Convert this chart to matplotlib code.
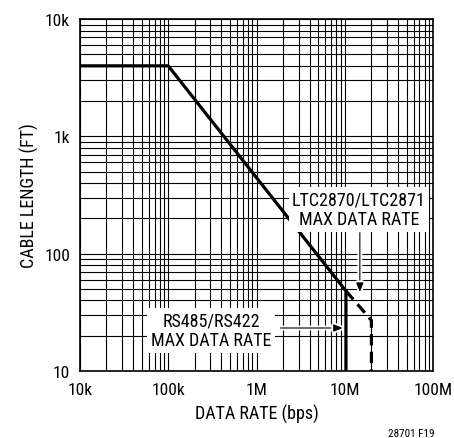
import matplotlib
matplotlib.use("Agg")
import matplotlib.pyplot as plt
import matplotlib.patheffects as pe
from matplotlib.ticker import FixedLocator, LogLocator, NullFormatter

plt.rcParams["font.family"] = ["Roboto Condensed", "Liberation Sans Narrow",
                               "Archivo Narrow", "PT Sans Narrow", "Liberation Sans"]

# RS485/RS422 limit (solid) and LTC2870/LTC2871 extension (dashed)
rs485_rate = [1e4, 1e5, 1.03e7, 1.03e7]
rs485_len = [4000, 4000, 48, 10]
ltc_rate = [1.03e7, 2e7, 2e7]
ltc_len = [48, 27, 10]

x_ticks = [1e4, 1e5, 1e6, 1e7, 1e8]
x_labels = ["10k", "100k", "1M", "10M", "100M"]
y_ticks = [10, 100, 1000, 10000]
y_labels = ["10", "100", "1k", "10k"]

fig = plt.figure(figsize=(4.54, 4.39), dpi=100)
ax = fig.add_axes([0.176, 0.153, 0.778, 0.801])
ax.set_xscale("log")
ax.set_yscale("log")
ax.set_xlim(1e4, 1e8)
ax.set_ylim(10, 1e4)

ax.xaxis.set_major_locator(FixedLocator(x_ticks))
ax.yaxis.set_major_locator(FixedLocator(y_ticks))
ax.set_xticklabels(x_labels)
ax.set_yticklabels(y_labels)
ax.xaxis.set_minor_locator(LogLocator(base=10, subs=range(2, 10)))
ax.yaxis.set_minor_locator(LogLocator(base=10, subs=range(2, 10)))
ax.xaxis.set_minor_formatter(NullFormatter())
ax.yaxis.set_minor_formatter(NullFormatter())
ax.tick_params(axis="x", which="both", length=0, labelsize=12.5, pad=8)
ax.tick_params(axis="y", which="both", length=0, labelsize=12.5, pad=7)
ax.grid(which="both", color="black", linewidth=0.8)
for s in ax.spines.values():
    s.set_linewidth(1.2)

ax.plot(rs485_rate, rs485_len, color="black", lw=2.3, solid_joinstyle="miter", zorder=3)
ax.plot(ltc_rate, ltc_len, color="black", lw=2.3, ls=(0, (3.5, 2)), zorder=3)

ax.set_xlabel("DATA RATE (bps)", fontsize=13, labelpad=5)
ax.set_ylabel("CABLE LENGTH (FT)", fontsize=13, labelpad=4)

halo = [pe.withStroke(linewidth=3.5, foreground="white")]
ax.annotate("", xy=(1.48e7, 47), xytext=(1.48e7, 151),
            arrowprops=dict(arrowstyle="-|>,head_length=0.5,head_width=0.2", color="black",
                            lw=0.8, mutation_scale=11, shrinkA=0, shrinkB=0,
                            path_effects=halo), zorder=4)
ax.annotate("", xy=(9.5e6, 23.2), xytext=(1.87e6, 23.2),
            arrowprops=dict(arrowstyle="-|>,head_length=0.5,head_width=0.2", color="black",
                            lw=0.8, mutation_scale=11, shrinkA=0, shrinkB=0,
                            path_effects=halo), zorder=4)

ax.text(1.45e7, 238, "LTC2870/LTC2871\nMAX DATA RATE", fontsize=13,
        ha="center", va="center", linespacing=1.1, zorder=5,
        bbox=dict(facecolor="white", edgecolor="none", pad=2.5))
ax.text(3.05e5, 22.1, "RS485/RS422\nMAX DATA RATE", fontsize=13,
        ha="center", va="center", linespacing=1.1, zorder=5,
        bbox=dict(facecolor="white", edgecolor="none", pad=2.5))

fig.text(0.905, 0.0114, "28701 F19", fontsize=8, ha="center", va="center")

fig.savefig("out.png", dpi=100)
